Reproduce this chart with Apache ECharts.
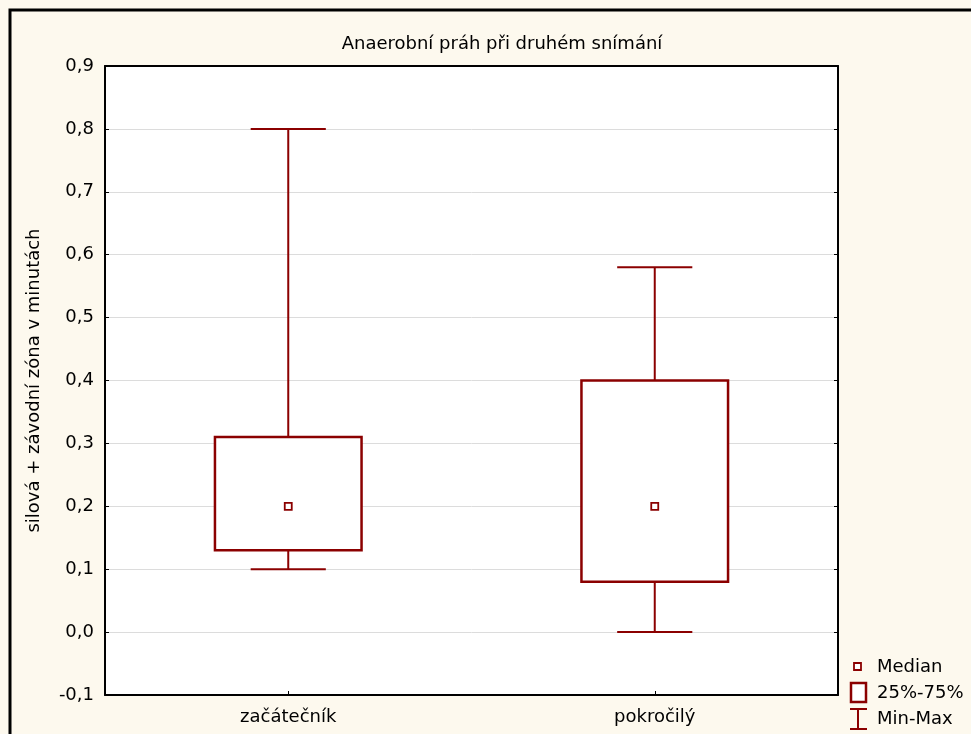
<!DOCTYPE html>
<html><head><meta charset="utf-8">
<script src="https://cdn.jsdelivr.net/npm/echarts@6/dist/echarts.min.js"></script>
<style>html,body{margin:0;padding:0;background:#fdf9ee;}#c{width:971px;height:734px;}</style>
</head><body><div id="c"></div>
<script>
const categories = ['začátečník', 'pokročilý'];
const minValues = [0.10, 0.00];
const q1Values = [0.13, 0.08];
const medianValues = [0.20, 0.20];
const q3Values = [0.31, 0.40];
const maxValues = [0.80, 0.58];
const yTicks = { min: -0.1, max: 0.9, interval: 0.1 };
const title = 'Anaerobní práh při druhém snímání';
const yName = 'silová + závodní zóna v minutách';
const legendLabels = ['Median', '25%-75%', 'Min-Max'];

const boxColor = '#8b0000';
const FONT = '"DejaVu Sans", sans-serif';
const FS = 18;
const chart = echarts.init(document.getElementById('c'), null, { renderer: 'canvas' });

const data = categories.map((c, i) => [i, minValues[i], q1Values[i], medianValues[i], q3Values[i], maxValues[i]]);
const fmt = v => (Math.round(v * 10) / 10).toFixed(1).replace('.', ',');

function renderItem(params, api) {
  const i = api.value(0);
  const band = api.size([1, 0])[0];
  const x = api.coord([i, 0])[0];
  const yMin = api.coord([i, api.value(1)])[1];
  const yQ1 = api.coord([i, api.value(2)])[1];
  const yMed = api.coord([i, api.value(3)])[1];
  const yQ3 = api.coord([i, api.value(4)])[1];
  const yMax = api.coord([i, api.value(5)])[1];
  const bw = band * 0.4, cw = band * 0.205;
  const ls = { stroke: boxColor, lineWidth: 2, fill: null };
  return {
    type: 'group',
    children: [
      { type: 'line', shape: { x1: x, y1: yQ3, x2: x, y2: yMax }, style: ls },
      { type: 'line', shape: { x1: x - cw / 2, y1: yMax, x2: x + cw / 2, y2: yMax }, style: ls },
      { type: 'line', shape: { x1: x, y1: yQ1, x2: x, y2: yMin }, style: ls },
      { type: 'line', shape: { x1: x - cw / 2, y1: yMin, x2: x + cw / 2, y2: yMin }, style: ls },
      { type: 'rect', shape: { x: x - bw / 2, y: yQ3, width: bw, height: yQ1 - yQ3 }, style: { stroke: boxColor, lineWidth: 2.5, fill: '#fff' } },
      { type: 'rect', shape: { x: x - 3.5, y: yMed - 3.5, width: 7, height: 7 }, style: { stroke: boxColor, lineWidth: 1.8, fill: '#fff' } }
    ]
  };
}

const textStyle = { fill: '#000', font: FS + 'px ' + FONT, textVerticalAlign: 'middle' };

chart.setOption({
  backgroundColor: '#fdf9ee',
  animation: false,
  title: {
    text: title, left: 497, top: 30, textAlign: 'center',
    textStyle: { fontFamily: FONT, fontSize: FS, fontWeight: 'normal', color: '#000' }
  },
  grid: { left: 105, right: 133, top: 66, bottom: 39, show: true, backgroundColor: '#fff', borderColor: '#000', borderWidth: 0 },
  xAxis: [{
    type: 'category', data: categories, position: 'bottom',
    axisLine: { show: true, onZero: false, lineStyle: { color: '#000', width: 2 } },
    axisTick: { show: true, inside: true, alignWithLabel: true, length: 4, lineStyle: { color: '#000' } },
    axisLabel: { fontFamily: FONT, fontSize: FS, color: '#000', margin: 13 },
    splitLine: { show: false }
  }, {
    type: 'category', data: categories, position: 'top',
    axisLine: { show: true, onZero: false, lineStyle: { color: '#000', width: 2 } },
    axisTick: { show: false }, axisLabel: { show: false }
  }],
  yAxis: [{
    type: 'value', min: yTicks.min, max: yTicks.max, interval: yTicks.interval,
    name: yName, nameLocation: 'middle', nameGap: 62, nameRotate: 90,
    nameTextStyle: { fontFamily: FONT, fontSize: FS, color: '#000' },
    axisLine: { show: true, onZero: false, lineStyle: { color: '#000', width: 2 } },
    axisTick: { show: true, inside: true, length: 4, lineStyle: { color: '#000' } },
    axisLabel: { fontFamily: FONT, fontSize: FS, color: '#000', margin: 11, formatter: fmt },
    splitLine: { show: true, lineStyle: { color: '#dcdcdc', width: 1 } }
  }, {
    type: 'value', min: yTicks.min, max: yTicks.max, interval: yTicks.interval, position: 'right',
    axisLine: { show: true, onZero: false, lineStyle: { color: '#000', width: 2 } },
    axisTick: { show: true, inside: true, length: 4, lineStyle: { color: '#000' } },
    axisLabel: { show: false }, splitLine: { show: false }
  }],
  series: [{
    type: 'custom', renderItem: renderItem, data: data, encode: { x: 0, y: [1, 2, 3, 4, 5] }, z: 5
  }],
  graphic: [
    { type: 'rect', z: -10, silent: true, shape: { x: 10, y: 10, width: 1200, height: 1000 }, style: { fill: '#fdf9ee', stroke: '#000', lineWidth: 3 } },
    { type: 'rect', shape: { x: 854, y: 663, width: 7, height: 7 }, style: { fill: '#fff', stroke: boxColor, lineWidth: 1.8 } },
    { type: 'text', x: 877, y: 667, style: Object.assign({ text: legendLabels[0] }, textStyle) },
    { type: 'rect', shape: { x: 851, y: 683, width: 15, height: 19 }, style: { fill: '#fff', stroke: boxColor, lineWidth: 2.5 } },
    { type: 'text', x: 877, y: 693, style: Object.assign({ text: legendLabels[1] }, textStyle) },
    { type: 'line', shape: { x1: 858, y1: 709, x2: 858, y2: 729 }, style: { stroke: boxColor, lineWidth: 2 } },
    { type: 'line', shape: { x1: 850, y1: 709, x2: 867, y2: 709 }, style: { stroke: boxColor, lineWidth: 2 } },
    { type: 'line', shape: { x1: 850, y1: 729, x2: 867, y2: 729 }, style: { stroke: boxColor, lineWidth: 2 } },
    { type: 'text', x: 877, y: 719, style: Object.assign({ text: legendLabels[2] }, textStyle) }
  ]
});
</script></body></html>
